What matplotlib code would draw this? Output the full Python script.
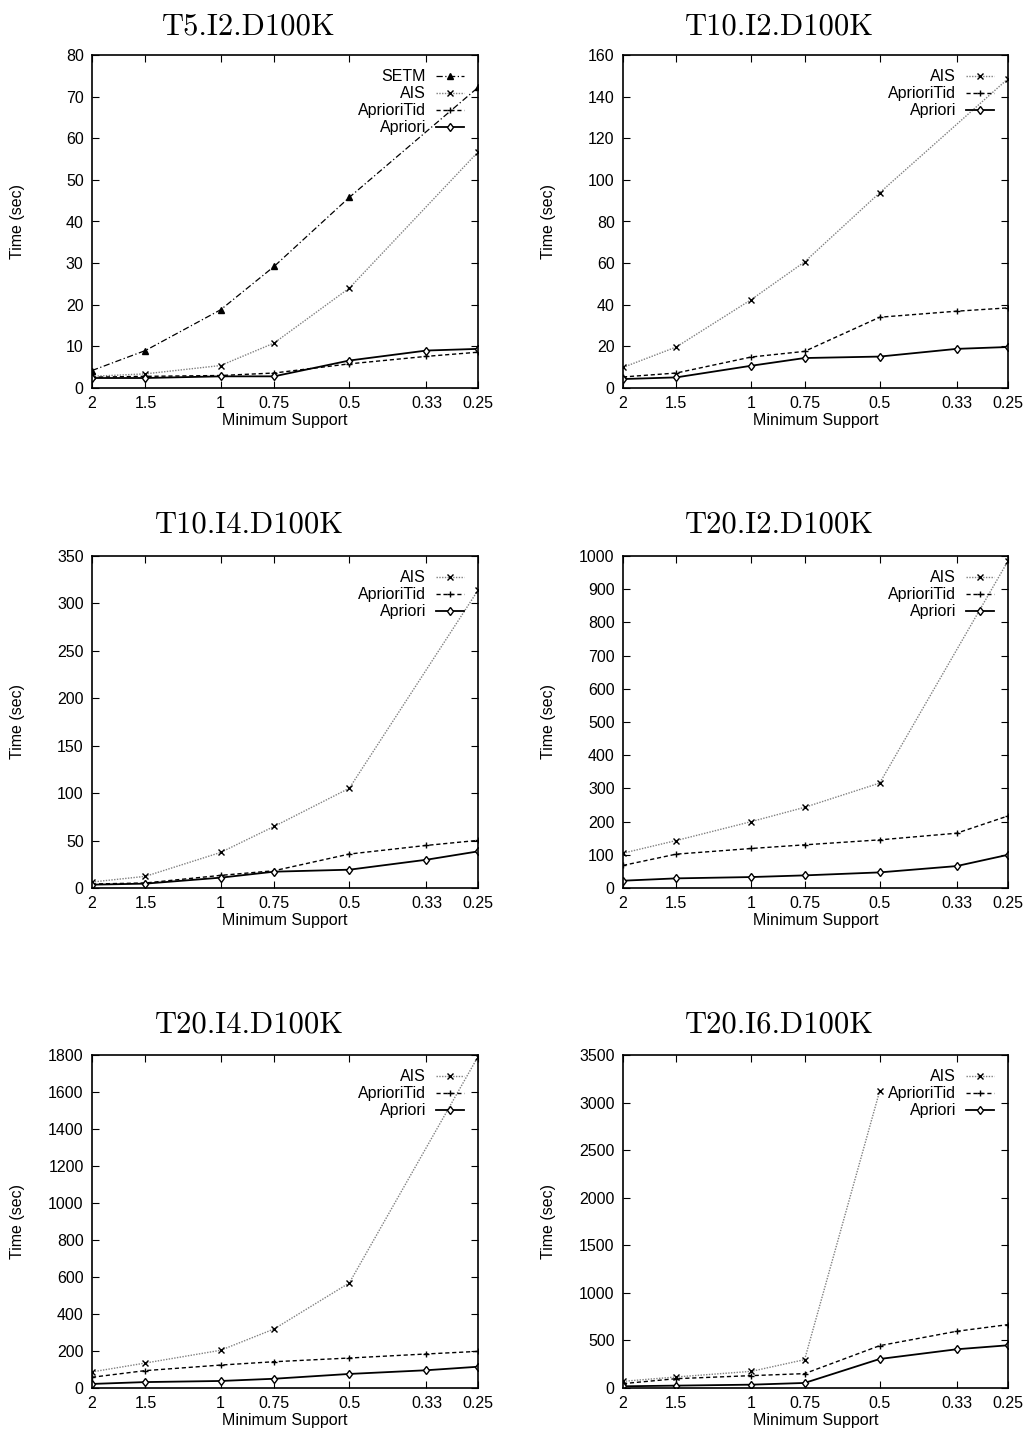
import matplotlib
matplotlib.use('Agg')
import matplotlib.pyplot as plt

plt.rcParams['font.family'] = ['Liberation Sans', 'DejaVu Sans']

support = [2, 1.5, 1, 0.75, 0.5, 0.33, 0.25]
tick_labels = ['2', '1.5', '1', '0.75', '0.5', '0.33', '0.25']
support_no33 = [2, 1.5, 1, 0.75, 0.5, 0.25]
support_to05 = [2, 1.5, 1, 0.75, 0.5]

# T5.I2.D100K
t5i2_setm = [4.2, 9.0, 18.8, 29.2, 45.8, 72.2]
t5i2_ais = [2.8, 3.4, 5.4, 10.8, 24.0, 56.7]
t5i2_tid = [2.6, 2.8, 3.0, 3.6, 5.8, 7.6, 8.6]
t5i2_apriori = [2.4, 2.4, 2.8, 2.8, 6.6, 9.0, 9.4]

# T10.I2.D100K
t10i2_ais = [9.9, 19.7, 42.5, 60.6, 93.8, 148.6]
t10i2_tid = [5.3, 7.2, 14.9, 17.6, 34.0, 36.9, 38.5]
t10i2_apriori = [4.3, 5.1, 10.7, 14.4, 15.1, 18.8, 19.7]

# T10.I4.D100K
t10i4_ais = [6.3, 12.3, 37.5, 64.9, 105.2, 313.9]
t10i4_tid = [4.2, 5.3, 13.3, 18.2, 35.8, 44.9, 50.2]
t10i4_apriori = [3.5, 4.6, 10.9, 17.2, 19.3, 29.8, 38.6]

# T20.I2.D100K
t20i2_ais = [105, 143, 200, 243, 316, 985]
t20i2_tid = [68, 102, 119, 130, 145, 165, 217]
t20i2_apriori = [22, 29, 33, 38, 47, 66, 100]

# T20.I4.D100K
t20i4_ais = [87, 135, 204, 319, 568, 1791]
t20i4_tid = [58, 94, 124, 142, 162, 184, 198]
t20i4_apriori = [22, 32, 38, 50, 76, 96, 115]

# T20.I6.D100K
t20i6_ais = [70, 116, 175, 298, 3121]
t20i6_tid = [46, 98, 130, 151, 445, 596, 666]
t20i6_apriori = [18, 25, 35, 53, 305, 407, 449]

panels = [
    ('T5.I2.D100K', 80, 10, t5i2_setm, t5i2_ais, support_no33, t5i2_tid, t5i2_apriori),
    ('T10.I2.D100K', 160, 20, None, t10i2_ais, support_no33, t10i2_tid, t10i2_apriori),
    ('T10.I4.D100K', 350, 50, None, t10i4_ais, support_no33, t10i4_tid, t10i4_apriori),
    ('T20.I2.D100K', 1000, 100, None, t20i2_ais, support_no33, t20i2_tid, t20i2_apriori),
    ('T20.I4.D100K', 1800, 200, None, t20i4_ais, support_no33, t20i4_tid, t20i4_apriori),
    ('T20.I6.D100K', 3500, 500, None, t20i6_ais, support_to05, t20i6_tid, t20i6_apriori),
]

W, H = 1024, 1432
fig = plt.figure(figsize=(W / 100, H / 100), dpi=100)

# axes boxes in pixels
cols = [(92, 478), (623, 1008)]
rows = [(55, 388), (556, 888), (1055, 1388)]
title_y = [27, 525, 1025]
fs = 11.5

for i, (title, ymax, ystep, setm, ais, ais_x, tid, apr) in enumerate(panels):
    r, c = divmod(i, 2)
    x0, x1 = cols[c]
    y0, y1 = rows[r]
    ax = fig.add_axes([x0 / W, 1 - y1 / H, (x1 - x0) / W, (y1 - y0) / H])

    if setm is not None:
        ax.plot(ais_x, setm, color='black', ls=(0, (5, 2, 1, 2)), lw=0.9,
                marker='^', ms=4, mfc='black', label='SETM')
    ax.plot(ais_x, ais, color='#808080', ls=(0, (1, 1)), lw=1.0,
            marker='x', ms=5, mec='black', mew=1.0, label='AIS')
    ax.plot(support, tid, color='black', ls=(0, (3, 2)), lw=1.0,
            marker='+', ms=5, mew=1.0, label='AprioriTid')
    ax.plot(support, apr, color='black', ls='-', lw=1.3,
            marker='d', ms=4.5, mfc='white', mew=1.0, label='Apriori')

    ax.set_xscale('log')
    ax.set_xlim(2, 0.25)
    ax.set_xticks(support)
    ax.set_xticklabels(tick_labels)
    ax.minorticks_off()
    ax.set_ylim(0, ymax)
    ax.set_yticks(range(0, ymax + 1, ystep))

    ax.tick_params(direction='in', length=5, width=0.8, top=True, right=True,
                   labelsize=fs, pad=6, colors='black')
    for s in ax.spines.values():
        s.set_linewidth(1.2)

    ax.set_xlabel('Minimum Support', fontsize=fs, va='center')
    ax.xaxis.set_label_coords(0.5, -33 / (y1 - y0))
    ax.set_ylabel('Time (sec)', fontsize=fs, va='center')
    ax.yaxis.set_label_coords(-(x0 - (18 if c == 0 else 548)) / (x1 - x0), 0.5)

    ax.legend(loc='upper right', frameon=False, markerfirst=False, fontsize=fs,
              handlelength=1.75, handletextpad=0.6, labelspacing=0.12,
              borderaxespad=0.6, borderpad=0.3)

    fig.text((x0 + x1) / 2 / W - 36 / W, 1 - title_y[r] / H, title,
             family='cmr10', fontsize=22, ha='center', va='center')

fig.savefig('out.png', dpi=100)
